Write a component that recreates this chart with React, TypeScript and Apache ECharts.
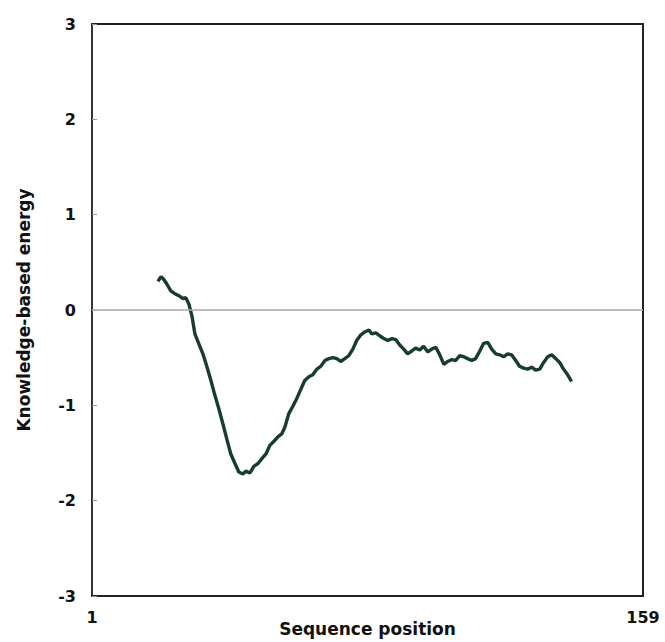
import React, { useEffect, useRef } from "react";
import * as echarts from "echarts";

const positions = [
  19.9, 20.8, 21.6, 22.5, 23.6, 24.8, 25.9, 27.1, 27.9, 28.8, 29.7, 30.5, 31.7, 32.8, 34.0, 35.1, 36.2, 37.4,
  38.5, 39.7, 40.8, 42.0, 43.1, 44.3, 45.1, 46.3, 47.4, 48.6, 49.7, 50.9, 52.0, 53.1, 54.3, 55.4, 56.3, 57.4,
  58.6, 59.7, 60.9, 62.0, 63.2, 64.3, 65.5, 66.6, 67.8, 68.9, 70.1, 71.2, 72.3, 73.5, 74.6, 75.8, 76.9, 78.1,
  79.2, 80.4, 81.2, 82.4, 83.5, 84.7, 85.8, 87.0, 88.1, 89.3, 90.4, 91.5, 92.7, 93.8, 95.0, 96.1, 97.3, 98.4,
  99.6, 100.7, 101.9, 103.0, 104.2, 105.3, 106.4, 107.6, 108.7, 109.9, 111.0, 112.2, 113.3, 114.5, 115.6,
  116.8, 117.9, 119.1, 120.2, 121.3, 122.5, 123.6, 124.8, 125.9, 127.1, 128.2, 129.4, 130.5, 131.7, 132.8,
  134.0, 135.1, 136.2, 137.4, 138.5,
];

const energies = [
  0.3, 0.35, 0.32, 0.27, 0.2, 0.17, 0.15, 0.12, 0.13, 0.06, -0.07, -0.25, -0.36, -0.46, -0.6, -0.74, -0.89, -1.04,
  -1.19, -1.36, -1.51, -1.61, -1.7, -1.72, -1.69, -1.71, -1.64, -1.61, -1.56, -1.51, -1.42, -1.38, -1.33, -1.3,
  -1.23, -1.09, -1.01, -0.93, -0.83, -0.74, -0.7, -0.68, -0.62, -0.59, -0.53, -0.51, -0.5, -0.51, -0.54, -0.51,
  -0.48, -0.41, -0.32, -0.26, -0.23, -0.21, -0.25, -0.24, -0.27, -0.3, -0.32, -0.3, -0.31, -0.37, -0.41, -0.46,
  -0.43, -0.4, -0.42, -0.38, -0.44, -0.41, -0.39, -0.47, -0.57, -0.54, -0.52, -0.53, -0.48, -0.49, -0.51, -0.53,
  -0.51, -0.43, -0.35, -0.34, -0.41, -0.46, -0.47, -0.49, -0.46, -0.47, -0.53, -0.59, -0.61, -0.62, -0.6, -0.63,
  -0.62, -0.55, -0.49, -0.47, -0.51, -0.55, -0.62, -0.68, -0.75,
];

const xTickValues = [1, 159];
const yMin = -3;
const yMax = 3;
const xTitle = "Sequence position";
const yTitle = "Knowledge-based energy";

export default function App() {
  const ref = useRef<HTMLDivElement>(null);
  useEffect(() => {
    if (!ref.current) return;
    const chart = echarts.init(ref.current, undefined, { renderer: "svg" });
    const font = "'DejaVu Sans', Verdana, sans-serif";
    chart.setOption({
      animation: false,
      backgroundColor: "#ffffff",
      grid: {
        left: 92,
        right: 22,
        top: 24,
        bottom: 46,
        containLabel: false,
        outerBoundsMode: "none",
        show: true,
        borderColor: "#222",
        borderWidth: 2,
        backgroundColor: "transparent",
      },
      xAxis: {
        type: "value",
        min: 1,
        max: 159,
        name: xTitle,
        nameLocation: "middle",
        nameGap: 24,
        nameMoveOverlap: false,
        nameTextStyle: { fontFamily: font, fontWeight: "bold", fontSize: 17, color: "#111", lineHeight: 18 },
        axisLine: { show: true, onZero: false, lineStyle: { color: "#222", width: 2 } },
        axisTick: { show: false },
        splitLine: { show: false },
        axisLabel: {
          customValues: xTickValues,
          fontFamily: font,
          fontWeight: "bold",
          fontSize: 16,
          color: "#111",
          margin: 13,
        },
      },
      yAxis: {
        type: "value",
        min: yMin,
        max: yMax,
        interval: 1,
        name: yTitle,
        nameLocation: "middle",
        nameGap: 60,
        nameMoveOverlap: false,
        nameTextStyle: { fontFamily: font, fontWeight: "bold", fontSize: 17, color: "#111" },
        axisLine: { show: true, onZero: false, lineStyle: { color: "#333", width: 2 } },
        axisTick: { show: true, inside: true, length: 5, lineStyle: { color: "#999" } },
        splitLine: { show: false },
        axisLabel: { fontFamily: font, fontWeight: "bold", fontSize: 16, color: "#111", margin: 16 },
      },
      series: [
        {
          type: "line",
          data: positions.map((p, i) => [p, energies[i]]),
          showSymbol: false,
          symbol: "none",
          lineStyle: { color: "#173d2b", width: 3.4 },
          markLine: {
            silent: true,
            symbol: "none",
            label: { show: false },
            lineStyle: { color: "#aaaaaa", width: 1.5, type: "solid" },
            data: [{ yAxis: 0 }],
          },
          z: 3,
        },
      ],
    });
    return () => chart.dispose();
  }, []);
  return (
    <div
      ref={ref}
      style={{ position: "fixed", left: 0, top: 0, width: 665, height: 642, background: "#fff" }}
    />
  );
}
